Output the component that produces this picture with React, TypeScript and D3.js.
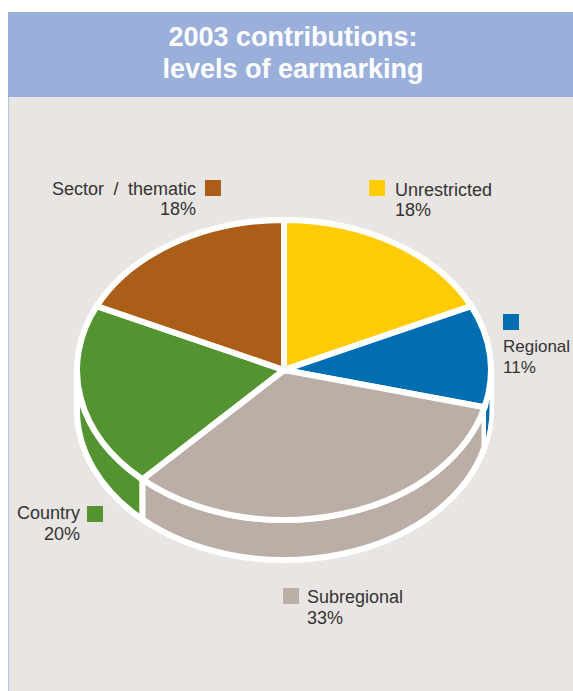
import React from 'react';
import * as d3 from 'd3';

const categories = ['Unrestricted', 'Regional', 'Subregional', 'Country', 'Sector / thematic'];
const shares = [18, 11, 33, 20, 18];
const colors = ['#ffcc05', '#006eb0', '#baaea6', '#539431', '#ab5e17'];
const titleLines = ['2003 contributions:', 'levels of earmarking'];

// legend placement, same order as categories
const labelLayout = [
  { sx: 369, sy: 180, tx: 395, ty: 196, anchor: 'start', px: 395, py: 216, size: 18 },
  { sx: 503, sy: 314, tx: 503, ty: 352, anchor: 'start', px: 503, py: 373, size: 17 },
  { sx: 283, sy: 588, tx: 307, ty: 603, anchor: 'start', px: 307, py: 624, size: 18 },
  { sx: 87, sy: 506, tx: 80, ty: 519, anchor: 'end', px: 80, py: 540, size: 18 },
  { sx: 205, sy: 180, tx: 196, ty: 195, anchor: 'end', px: 196, py: 215, size: 18 },
];

const width = 573;
const height = 691;
const cx = 284;
const cy = 370;
const rx = 207;
const ry = 150;
const depth = 40;
const gap = 6;
const font = '"Liberation Sans", Arial, sans-serif';

const pie = d3.pie<number>().sort(null).value(d => d);
const arc = d3.arc<d3.PieArcDatum<number>>().innerRadius(0).outerRadius(rx);

// point on the tilted rim, angle measured clockwise from 12 o'clock
const rim = (a: number, dy = 0) => [cx + rx * Math.sin(a), cy - ry * Math.cos(a) + dy];

// side wall of a slice, only the part facing the viewer (3 to 9 o'clock)
const wallPath = (start: number, end: number) => {
  const a0 = Math.max(start, Math.PI / 2);
  const a1 = Math.min(end, (3 * Math.PI) / 2);
  if (a1 <= a0) return null;
  const [x0, y0] = rim(a0);
  const [x1, y1] = rim(a1);
  return `M${x0},${y0}A${rx},${ry} 0 0 1 ${x1},${y1}L${x1},${y1 + depth}A${rx},${ry} 0 0 0 ${x0},${y0 + depth}Z`;
};

const App = () => {
  const slices = pie(shares);
  // the Regional wall is so narrow the full white edge would hide it, so it goes again on top, thinner
  const sliver = wallPath(slices[1].startAngle, slices[1].endAngle);

  return (
    <svg
      width={width}
      height={height}
      style={{ position: 'absolute', left: 0, top: 0, display: 'block' }}
    >
      <rect width={width} height={height} fill="#fff" />
      <rect x={8} y={12} width={width - 8} height={height - 12} fill="#e9e5e2" />
      <rect x={8} y={12} width={1} height={height - 12} fill="#b4c4e6" />
      <rect x={8} y={12} width={width - 8} height={85} fill="#9bafdb" />
      {titleLines.map((line, i) => (
        <text
          key={line}
          x={293}
          y={46 + i * 32}
          textAnchor="middle"
          fill="#fff"
          fontFamily={font}
          fontWeight="bold"
          fontSize={27}
        >
          {line}
        </text>
      ))}

      {slices.map((s, i) => {
        const d = wallPath(s.startAngle, s.endAngle);
        return d ? (
          <path key={categories[i]} d={d} fill={colors[i]} stroke="#fff" strokeWidth={gap} strokeLinejoin="round" />
        ) : null;
      })}
      {sliver && <path d={sliver} fill={colors[1]} stroke="#fff" strokeWidth={3} />}

      <g transform={`translate(${cx},${cy}) scale(1,${ry / rx})`}>
        {slices.map((s, i) => (
          <path
            key={categories[i]}
            d={arc(s) as string}
            fill={colors[i]}
            stroke="#fff"
            strokeWidth={gap}
            strokeLinejoin="miter"
            style={{ vectorEffect: 'non-scaling-stroke' }}
          />
        ))}
      </g>

      {categories.map((name, i) => {
        const l = labelLayout[i];
        return (
          <g key={name} fontFamily={font} fontSize={l.size} fill="#333">
            <rect x={l.sx} y={l.sy} width={16} height={16} fill={colors[i]} />
            <text x={l.tx} y={l.ty} textAnchor={l.anchor} wordSpacing={4.5}>{name}</text>
            <text x={l.px} y={l.py} textAnchor={l.anchor}>{shares[i]}%</text>
          </g>
        );
      })}
    </svg>
  );
};

export default App;
